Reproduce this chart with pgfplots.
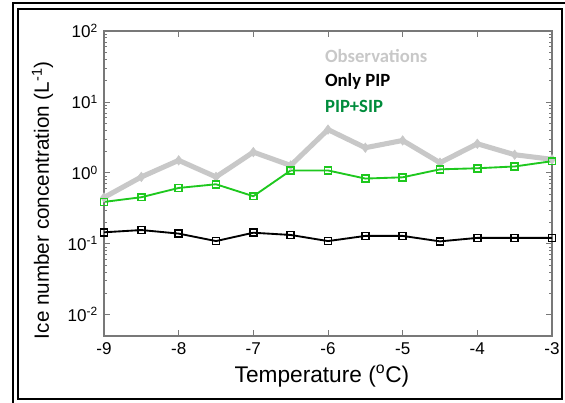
\documentclass[border=0pt]{standalone}
\usepackage{pgfplots}
\pgfplotsset{compat=1.18}
\usepackage{fontspec}
\setmainfont{Liberation Sans}
\newfontfamily\calibri{Carlito}
\definecolor{obsgray}{RGB}{200,200,200}
\definecolor{simgreen}{RGB}{30,200,30}
\definecolor{labgreen}{RGB}{0,140,60}
\definecolor{axgray}{RGB}{120,120,120}

\begin{document}
\begin{tikzpicture}
  \useasboundingbox (0,0) rectangle (423.75pt,302.25pt);
  % double frame round the figure
  \draw[line width=1.5pt] (13.5pt,3pt) rectangle (421.5pt,295.5pt);
  \draw[line width=1.5pt] (9.75pt,-10pt) -- (9.75pt,300pt) -- (440pt,300pt);

  \begin{axis}[
      at={(78pt,50.25pt)}, anchor=south west,
      scale only axis,
      width=336pt, height=228.75pt,
      xmin=-9, xmax=-3,
      ymode=log, ymin=0.005, ymax=100,
      xtick={-9,-8,...,-3},
      ytick={0.01,0.1,1,10,100},
      yticklabels={10\textsuperscript{-2},10\textsuperscript{-1},10\textsuperscript{0},10\textsuperscript{1},10\textsuperscript{2}},
      /pgf/number format/assume math mode=true,
      tick align=inside,
      xtick pos=both, ytick pos=both,
      axis line style={axgray, line width=0.8pt},
      every tick/.style={axgray, line width=0.6pt},
      major tick length=4.5pt, minor tick length=2.5pt,
      tick label style={font=\fontsize{12.8}{14}\selectfont},
      xticklabel style={yshift=-1.5pt},
      yticklabel style={xshift=-1pt},
      xlabel={Temperature (\textsuperscript{o}C)},
      ylabel={Ice number concentration (L\textsuperscript{-1})},
      xlabel style={font=\fontsize{17}{19}\selectfont, yshift=-1pt, xshift=-4.5pt},
      ylabel style={font=\fontsize{15.5}{17}\selectfont, yshift=4pt, xshift=-12.5pt},
    ]
    % Observations
    \addplot[obsgray, line width=3.8pt, mark=diamond*, mark size=3.5pt,
             mark options={fill=obsgray, draw=obsgray, line width=0.5pt}]
      coordinates {(-9,0.449) (-8.5,0.875) (-8,1.50) (-7.5,0.875) (-7,1.96)
                   (-6.5,1.27) (-6,4.07) (-5.5,2.26) (-5,2.86) (-4.5,1.39)
                   (-4,2.57) (-3.5,1.80) (-3,1.55)};
    % Only PIP
    \addplot[black, line width=1.4pt, mark=square, mark size=2.6pt,
             mark options={line width=1.2pt}]
      coordinates {(-9,0.145) (-8.5,0.156) (-8,0.139) (-7.5,0.109) (-7,0.143)
                   (-6.5,0.133) (-6,0.109) (-5.5,0.129) (-5,0.129) (-4.5,0.108)
                   (-4,0.121) (-3.5,0.121) (-3,0.121)};
    % PIP+SIP
    \addplot[simgreen, line width=1.4pt, mark=square, mark size=2.6pt,
             mark options={line width=1.2pt}]
      coordinates {(-9,0.389) (-8.5,0.453) (-8,0.612) (-7.5,0.690) (-7,0.468)
                   (-6.5,1.08) (-6,1.08) (-5.5,0.830) (-5,0.865) (-4.5,1.12)
                   (-4,1.16) (-3.5,1.23) (-3,1.46)};

    \node[anchor=west, text=obsgray, font=\calibri\bfseries\fontsize{14}{16}\selectfont]
      at (rel axis cs:0.483,0.919) {Observations};
    \node[anchor=west, text=black, font=\calibri\bfseries\fontsize{14}{16}\selectfont]
      at (rel axis cs:0.483,0.834) {Only PIP};
    \node[anchor=west, text=labgreen, font=\calibri\bfseries\fontsize{14}{16}\selectfont]
      at (rel axis cs:0.483,0.754) {PIP+SIP};
  \end{axis}
\end{tikzpicture}
\end{document}
